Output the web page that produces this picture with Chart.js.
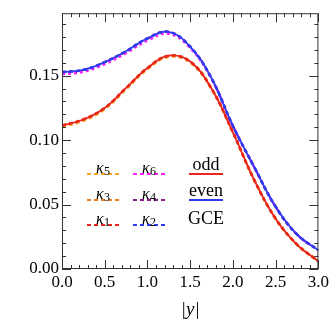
<!DOCTYPE html>
<html>
<head>
<meta charset="utf-8">
<script src="https://cdn.jsdelivr.net/npm/chart.js@4/dist/chart.umd.min.js"></script>
<style>
  html, body { margin: 0; padding: 0; background: #fff; }
  #wrap { width: 332px; height: 332px; }
</style>
</head>
<body>
<div id="wrap"><canvas id="chart"></canvas></div>
<script>
const SERIF = "'Liberation Serif', 'DejaVu Serif', serif";
Chart.defaults.font.family = SERIF;
Chart.defaults.color = '#000';

// |y| grid and curves
const yAbs     = [0, 0.25, 0.5, 0.75, 1.0, 1.25, 1.5, 1.75, 2.0, 2.25, 2.5, 2.75, 3.0];
const evenVals = [0.1528, 0.1545, 0.1605, 0.1690, 0.1790, 0.1840, 0.1725, 0.1480, 0.1110, 0.0790, 0.0483, 0.0268, 0.0145];
const oddVals  = [0.1113, 0.1160, 0.1250, 0.1405, 0.1560, 0.1655, 0.1610, 0.1400, 0.1060, 0.0690, 0.0390, 0.0190, 0.0060];
const kappa6   = [0.1512, 0.1530, 0.1590, 0.1675, 0.1773, 0.1826, 0.1715, 0.1475, 0.1108, 0.0789, 0.0482, 0.0268, 0.0145];
const kappa5   = [0.1103, 0.1150, 0.1240, 0.1395, 0.1550, 0.1646, 0.1602, 0.1395, 0.1058, 0.0689, 0.0390, 0.0190, 0.0060];

const xTicks = [0, 0.5, 1.0, 1.5, 2.0, 2.5, 3.0];
const yTicks = [0, 0.05, 0.10, 0.15];

const C = {
  odd: '#e8261e', even: '#2f3bf0',
  k1: '#e8261e', k2: '#2f3bf0', k3: '#f07f1a', k4: '#8b1c8b', k5: '#f5a623', k6: '#ff22ff',
};

const pts = vals => vals.map((v, i) => ({ x: yAbs[i], y: v }));

// frame, inward ticks (major + minor) on all four sides, legend
const framePlugin = {
  id: 'frame',
  afterDraw(chart) {
    const { ctx, chartArea: a, scales: { x, y } } = chart;
    ctx.save();
    ctx.strokeStyle = '#333';
    ctx.lineWidth = 1;
    ctx.strokeRect(a.left + 0.5, a.top + 0.5, a.right - a.left - 1, a.bottom - a.top - 1);
    ctx.beginPath();
    for (let i = 0; i <= 30; i++) {
      const px = Math.round(x.getPixelForValue(i / 10)) + 0.5;
      const len = i % 5 === 0 ? 9 : 4;
      ctx.moveTo(px, a.bottom); ctx.lineTo(px, a.bottom - len);
      ctx.moveTo(px, a.top);    ctx.lineTo(px, a.top + len);
    }
    for (let i = 0; i <= 19; i++) {
      const py = Math.round(y.getPixelForValue(i / 100)) + 0.5;
      const len = i % 5 === 0 ? 9 : 4;
      ctx.moveTo(a.left, py);  ctx.lineTo(a.left + len, py);
      ctx.moveTo(a.right, py); ctx.lineTo(a.right - len, py);
    }
    ctx.stroke();

    // x axis title
    ctx.fillStyle = '#000';
    ctx.font = 'italic 19px ' + SERIF;
    ctx.textAlign = 'center';
    ctx.textBaseline = 'middle';
    ctx.fillText('|y|', (a.left + a.right) / 2, 310);

    // legend
    const rows = [174, 200, 225];
    const cols = [87, 133];
    const kLab = [['5', '6'], ['3', '4'], ['1', '2']];
    const kCol = [[C.k5, C.k6], [C.k3, C.k4], [C.k1, C.k2]];
    rows.forEach((ry, r) => {
      cols.forEach((cx, c) => {
        ctx.strokeStyle = kCol[r][c];
        ctx.lineWidth = 2;
        ctx.setLineDash([4, 3]);
        ctx.beginPath();
        ctx.moveTo(cx, ry); ctx.lineTo(cx + 33, ry);
        ctx.stroke();
        ctx.setLineDash([]);
        ctx.fillStyle = '#000';
        ctx.textAlign = 'left';
        ctx.textBaseline = 'alphabetic';
        ctx.font = 'italic 16px ' + SERIF;
        ctx.fillText('\u03BA', cx + 9, ry - 1);
        ctx.font = '12px ' + SERIF;
        ctx.fillText(kLab[r][c], cx + 17, ry + 1);
      });
    });
    ctx.font = '18px ' + SERIF;
    ctx.textAlign = 'center';
    ctx.textBaseline = 'middle';
    ctx.fillStyle = '#000';
    ctx.fillText('odd', 206, 165);
    ctx.fillText('even', 206, 191);
    ctx.fillText('GCE', 206, 219);
    ctx.lineWidth = 2;
    ctx.strokeStyle = C.odd;
    ctx.beginPath(); ctx.moveTo(189, 174); ctx.lineTo(223, 174); ctx.stroke();
    ctx.strokeStyle = C.even;
    ctx.beginPath(); ctx.moveTo(189, 200); ctx.lineTo(223, 200); ctx.stroke();
    ctx.restore();
  },
};

const solid  = (label, vals, color) => ({ label, data: pts(vals), borderColor: color, borderWidth: 1.8, pointRadius: 0, tension: 0.4, fill: false });
const dashed = (label, vals, color, dash) => ({ label, data: pts(vals), borderColor: color, borderWidth: 2.5, borderDash: dash, pointRadius: 0, tension: 0.4, fill: false });

new Chart(document.getElementById('chart'), {
  type: 'line',
  data: {
    datasets: [
      solid('odd', oddVals, C.odd),
      solid('even', evenVals, C.even),
      dashed('κ1', oddVals, C.k1, [4, 3]),
      dashed('κ2', evenVals, C.k2, [4, 3]),
      dashed('κ3', oddVals, C.k3, [4, 3]),
      dashed('κ4', evenVals, C.k4, [4, 3]),
      dashed('κ5', kappa5, C.k5, [4, 3]),
      dashed('κ6', kappa6, C.k6, [3, 3]),
    ],
  },
  options: {
    responsive: true, maintainAspectRatio: false, animation: false,
    layout: { padding: { top: 13, right: 13, left: 0, bottom: 0 } },
    plugins: { legend: { display: false }, tooltip: { enabled: false } },
    scales: {
      x: {
        type: 'linear', min: 0, max: 3,
        grid: { display: false, drawTicks: false }, border: { display: false },
        afterBuildTicks(axis) { axis.ticks = xTicks.map(v => ({ value: v })); },
        afterFit(axis) { axis.height = 63; },
        ticks: { color: '#000', font: { family: SERIF, size: 17 }, padding: 3, maxRotation: 0, callback: v => v.toFixed(1) },
      },
      y: {
        type: 'linear', min: 0, max: 0.1985,
        grid: { display: false, drawTicks: false }, border: { display: false },
        afterBuildTicks(axis) { axis.ticks = yTicks.map(v => ({ value: v })); },
        afterFit(axis) { axis.width = 62; },
        ticks: { color: '#000', font: { family: SERIF, size: 17 }, padding: 3, callback: v => v.toFixed(2) },
      },
    },
  },
  plugins: [framePlugin],
});
</script>
</body>
</html>
